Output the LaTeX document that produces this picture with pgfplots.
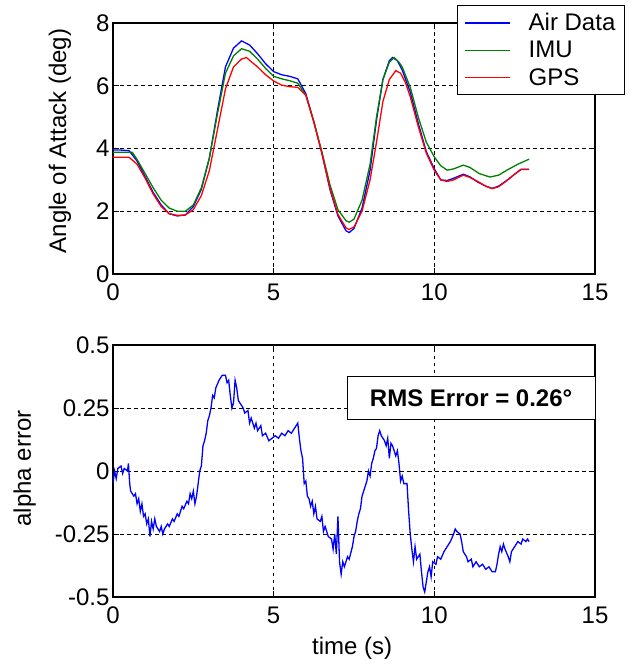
\documentclass[border=0pt]{standalone}
\usepackage{pgfplots}
\pgfplotsset{compat=1.18}
\usepackage{fontspec}
\setmainfont{Liberation Sans}
\definecolor{mblue}{RGB}{0,0,255}
\definecolor{mgreen}{RGB}{0,128,0}
\definecolor{mred}{RGB}{255,0,0}

\begin{document}
\begin{tikzpicture}
\useasboundingbox (0,0) rectangle (634pt,-666pt);
\pgfplotsset{
  mat/.style={
    scale only axis, width=482pt, anchor=north west,
    xmin=0, xmax=15, xtick={0,5,10,15}, xticklabels={0,5,10,15},
    grid=major, major grid style={black, dash pattern=on 3.5pt off 3.5pt, line width=0.9pt},
    axis line style={line width=1.3pt},
    tick align=inside, major tick length=6pt, tick style={black, line width=1pt},
    tick label style={font=\fontsize{24}{28}\selectfont},
    xticklabel style={yshift=-6pt},
    every axis plot/.append style={line width=1.3pt},
  }
}
% upper panel
\begin{axis}[mat, at={(113pt,-23pt)}, height=251pt,
  ymin=0, ymax=8, ytick={0,2,4,6,8}, yticklabels={0,2,4,6,8},
  ylabel={Angle of Attack (deg)},
  every axis y label/.style={at={(axis description cs:-0.11,0.53)}, rotate=90, anchor=center,
    font=\fontsize{24}{28}\selectfont},
  legend style={at={(1.062,1.072)}, anchor=north east, draw=black, line width=1pt, fill=white,
    font=\fontsize{24}{26}\selectfont, inner xsep=7pt, inner ysep=6pt, row sep=5pt,
    /tikz/every odd column/.append style={column sep=16pt}},
  legend cell align=left,
  legend image code/.code={\draw[#1, line width=1.3pt] (0pt,0pt) -- (45pt,0pt);}]
\addplot[mblue] coordinates {
(0,3.95)(0.25,3.95)(0.5,3.93)(0.75,3.6)(1.0,3.1)(1.25,2.6)(1.5,2.2)(1.75,1.92)(2.0,1.85)(2.25,1.88)
(2.5,2.15)(2.75,2.7)(3.0,3.7)(3.25,5.2)(3.5,6.6)(3.75,7.2)(4.0,7.43)(4.25,7.3)(4.5,7.02)(4.75,6.7)
(5.0,6.45)(5.25,6.35)(5.5,6.3)(5.75,6.22)(6.0,5.75)(6.25,4.85)(6.5,3.85)(6.75,2.7)(7.0,1.85)(7.25,1.38)
(7.35,1.32)(7.5,1.45)(7.75,2.1)(8.0,3.3)(8.2,4.9)(8.4,6.2)(8.6,6.8)(8.7,6.9)(8.85,6.8)(9.0,6.5)
(9.25,5.8)(9.5,4.8)(9.75,3.9)(10.0,3.35)(10.2,3.0)(10.4,2.98)(10.6,3.05)(10.9,3.18)(11.1,3.1)(11.35,2.93)
(11.6,2.8)(11.8,2.73)(12.0,2.8)(12.25,2.98)(12.5,3.18)(12.7,3.34)(12.95,3.34)};
\addplot[mgreen] coordinates {
(0,3.88)(0.6,3.88)(0.75,3.65)(1.0,3.2)(1.25,2.75)(1.5,2.35)(1.75,2.1)(2.0,2.0)(2.25,2.0)(2.5,2.2)
(2.75,2.75)(3.0,3.7)(3.25,5.1)(3.5,6.4)(3.75,6.95)(4.0,7.18)(4.25,7.1)(4.5,6.85)(4.75,6.55)(5.0,6.3)
(5.25,6.22)(5.5,6.16)(5.75,6.08)(6.0,5.7)(6.25,4.85)(6.5,3.9)(6.75,2.85)(7.0,2.05)(7.25,1.7)(7.35,1.65)
(7.5,1.75)(7.75,2.35)(8.0,3.5)(8.2,5.0)(8.4,6.2)(8.6,6.75)(8.75,6.9)(8.9,6.75)(9.0,6.6)(9.25,5.95)
(9.5,5.0)(9.75,4.2)(10.0,3.73)(10.2,3.45)(10.4,3.31)(10.6,3.35)(10.9,3.47)(11.1,3.4)(11.4,3.2)(11.73,3.09)
(12.0,3.15)(12.26,3.31)(12.6,3.5)(12.95,3.66)};
\addplot[mred] coordinates {
(0,3.72)(0.5,3.72)(0.75,3.5)(1.0,3.05)(1.25,2.55)(1.5,2.15)(1.75,1.92)(2.0,1.87)(2.25,1.88)(2.5,2.05)
(2.75,2.5)(3.0,3.3)(3.25,4.6)(3.5,5.9)(3.75,6.6)(4.0,6.85)(4.15,6.9)(4.5,6.6)(4.75,6.35)(5.0,6.15)
(5.25,6.02)(5.5,5.97)(5.75,5.95)(6.0,5.7)(6.25,4.85)(6.5,3.85)(6.75,2.75)(7.0,1.9)(7.25,1.47)(7.35,1.42)
(7.5,1.5)(7.75,2.0)(8.0,3.0)(8.2,4.2)(8.4,5.5)(8.6,6.2)(8.8,6.48)(8.95,6.4)(9.1,6.1)(9.25,5.65)
(9.5,4.7)(9.75,3.85)(10.0,3.3)(10.2,3.0)(10.4,2.95)(10.6,3.0)(10.9,3.15)(11.1,3.08)(11.35,2.95)(11.6,2.8)
(11.8,2.72)(12.0,2.78)(12.25,2.97)(12.5,3.18)(12.7,3.33)(12.95,3.33)};
\legend{Air Data, IMU, GPS}
\end{axis}
% lower panel
\begin{axis}[mat, at={(113pt,-345pt)}, height=252pt,
  ymin=-0.5, ymax=0.5, ytick={-0.5,-0.25,0,0.25,0.5}, yticklabels={-0.5,-0.25,0,0.25,0.5},
  ylabel={alpha error}, xlabel={time (s)},
  every axis y label/.style={at={(axis description cs:-0.183,0.51)}, rotate=90, anchor=center,
    font=\fontsize{24}{28}\selectfont},
  every axis x label/.style={at={(axis description cs:0.496,-0.202)}, anchor=center,
    font=\fontsize{24}{28}\selectfont}]
\addplot[mblue] coordinates {
(0.0,-0.05)(0.05,0.0)(0.1,-0.03)(0.15,0.01)(0.25,0.02)(0.3,-0.01)(0.35,0.01)(0.45,0.0)(0.48,0.03)(0.52,-0.05)
(0.55,-0.08)(0.65,-0.1)(0.7,-0.09)(0.75,-0.13)(0.8,-0.11)(0.85,-0.16)(0.9,-0.13)(0.95,-0.18)(1.0,-0.17)(1.05,-0.21)
(1.1,-0.19)(1.15,-0.26)(1.2,-0.2)(1.25,-0.23)(1.3,-0.19)(1.35,-0.22)(1.45,-0.24)(1.5,-0.22)(1.55,-0.25)(1.6,-0.23)
(1.7,-0.21)(1.75,-0.22)(1.85,-0.19)(1.9,-0.2)(2.0,-0.17)(2.05,-0.18)(2.15,-0.14)(2.2,-0.15)(2.3,-0.12)(2.35,-0.13)
(2.4,-0.09)(2.45,-0.11)(2.5,-0.08)(2.55,-0.13)(2.6,-0.1)(2.65,-0.05)(2.7,0.0)(2.75,0.02)(2.8,0.1)(2.85,0.12)
(2.9,0.15)(2.95,0.2)(3.0,0.22)(3.05,0.25)(3.1,0.3)(3.15,0.29)(3.2,0.33)(3.3,0.36)(3.4,0.38)(3.5,0.38)
(3.55,0.35)(3.6,0.36)(3.65,0.3)(3.7,0.25)(3.75,0.27)(3.8,0.36)(3.85,0.33)(3.9,0.28)(3.95,0.27)(4.05,0.25)
(4.1,0.23)(4.2,0.24)(4.25,0.19)(4.3,0.21)(4.4,0.17)(4.45,0.19)(4.5,0.16)(4.6,0.18)(4.65,0.14)(4.75,0.15)
(4.85,0.12)(4.95,0.13)(5.05,0.14)(5.15,0.13)(5.25,0.15)(5.35,0.14)(5.45,0.16)(5.55,0.15)(5.65,0.17)(5.75,0.19)
(5.8,0.13)(5.85,0.08)(5.9,0.05)(5.95,-0.05)(6.0,-0.04)(6.05,-0.1)(6.1,-0.11)(6.15,-0.14)(6.2,-0.12)(6.25,-0.17)
(6.3,-0.14)(6.35,-0.19)(6.45,-0.2)(6.5,-0.18)(6.55,-0.24)(6.6,-0.22)(6.7,-0.26)(6.8,-0.27)(6.85,-0.31)(6.9,-0.25)
(6.95,-0.33)(7.0,-0.18)(7.05,-0.36)(7.1,-0.41)(7.15,-0.36)(7.2,-0.38)(7.3,-0.34)(7.35,-0.35)(7.45,-0.3)(7.5,-0.26)
(7.55,-0.24)(7.6,-0.2)(7.65,-0.17)(7.7,-0.15)(7.75,-0.1)(7.8,-0.08)(7.85,-0.06)(7.9,-0.04)(7.95,0.0)(8.0,-0.02)
(8.05,0.03)(8.1,0.05)(8.15,0.08)(8.2,0.09)(8.25,0.14)(8.3,0.16)(8.35,0.14)(8.45,0.12)(8.5,0.1)(8.55,0.13)
(8.6,0.05)(8.65,0.11)(8.7,0.1)(8.8,0.06)(8.85,0.08)(8.9,0.03)(8.95,-0.04)(9.0,-0.02)(9.05,-0.05)(9.15,-0.05)
(9.2,-0.16)(9.25,-0.25)(9.3,-0.31)(9.35,-0.36)(9.4,-0.3)(9.45,-0.35)(9.55,-0.33)(9.6,-0.4)(9.65,-0.46)(9.7,-0.48)
(9.75,-0.44)(9.8,-0.4)(9.85,-0.38)(9.9,-0.42)(9.95,-0.36)(10.05,-0.37)(10.1,-0.34)(10.2,-0.35)(10.3,-0.32)(10.4,-0.3)
(10.5,-0.28)(10.6,-0.25)(10.65,-0.23)(10.7,-0.24)(10.8,-0.25)(10.85,-0.28)(10.9,-0.32)(11.0,-0.34)(11.05,-0.36)(11.15,-0.35)
(11.2,-0.38)(11.3,-0.36)(11.4,-0.38)(11.5,-0.37)(11.6,-0.39)(11.7,-0.38)(11.8,-0.4)(11.9,-0.4)(11.95,-0.37)(12.0,-0.33)
(12.05,-0.3)(12.1,-0.32)(12.15,-0.29)(12.2,-0.31)(12.3,-0.34)(12.35,-0.36)(12.4,-0.32)(12.5,-0.3)(12.6,-0.28)(12.7,-0.29)
(12.75,-0.27)(12.85,-0.28)(12.9,-0.27)(12.95,-0.28)};
\node[draw=black, line width=1pt, fill=white, minimum width=248pt, minimum height=43pt,
  font=\fontsize{24}{26}\selectfont\bfseries] at (rel axis cs:0.743,0.788) {RMS Error = 0.26°};
\end{axis}
\end{tikzpicture}
\end{document}
